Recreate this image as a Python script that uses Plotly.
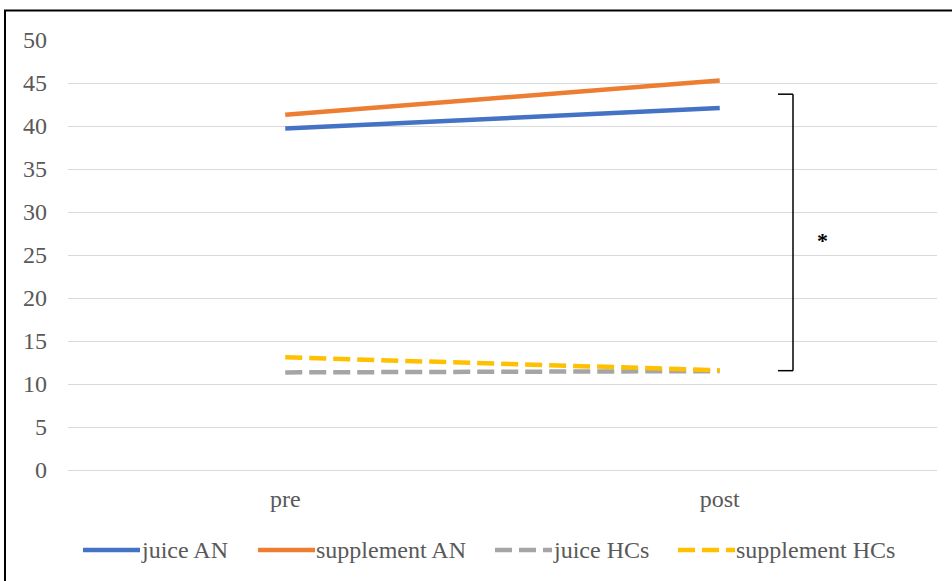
import plotly.graph_objects as go

categories = ["pre", "post"]
juice_an = [39.7, 42.1]
supplement_an = [41.3, 45.3]
juice_hcs = [11.35, 11.5]
supplement_hcs = [13.1, 11.6]
y_ticks = [0, 5, 10, 15, 20, 25, 30, 35, 40, 45, 50]
series_names = ["juice AN", "supplement AN", "juice HCs", "supplement HCs"]

FONT = "Liberation Serif"
TXT = "#595959"
FS = 24

styles = [("#4472C4", "solid"), ("#ED7D31", "solid"),
          ("#A5A5A5", "17px,7px"), ("#FFC000", "17px,7px")]
values = [juice_an, supplement_an, juice_hcs, supplement_hcs]

PL, PR, PT, PB = 68, 15, 40, 111
W, H = 952, 581
PW, PH = W - PL - PR, H - PT - PB


def px(x):
    return (x - PL) / PW


def py(y):
    return (H - PB - y) / PH


fig = go.Figure()
for name, vals, (color, dash) in zip(series_names, values, styles):
    fig.add_trace(go.Scatter(
        x=categories, y=vals, name=name, mode="lines",
        line=dict(color=color, width=4.5, dash=dash), showlegend=False,
    ))

# legend drawn as in the original (long line samples touching the text)
leg_x = [83, 258, 495, 678]
leg_y = py(550)
for (color, dash), name, x0 in zip(styles, series_names, leg_x):
    fig.add_shape(type="line", xref="paper", yref="paper",
                  x0=px(x0), x1=px(x0 + 57), y0=leg_y, y1=leg_y,
                  line=dict(color=color, width=4.5, dash=dash))
    fig.add_annotation(xref="paper", yref="paper", x=px(x0 + 57), y=leg_y,
                       xanchor="left", yanchor="middle", text=name, showarrow=False,
                       xshift=-1, font=dict(family=FONT, size=FS, color=TXT))

# significance bracket between post AN mean and post HCs mean
top = (juice_an[1] + supplement_an[1]) / 2
bot = (juice_hcs[1] + supplement_hcs[1]) / 2
xv, xt = px(793), px(778)
bk = dict(color="black", width=1.5)
fig.add_shape(type="line", xref="paper", yref="y", x0=xv, x1=xv, y0=bot, y1=top, line=bk)
fig.add_shape(type="line", xref="paper", yref="y", x0=xt, x1=xv, y0=top, y1=top, line=bk)
fig.add_shape(type="line", xref="paper", yref="y", x0=xt, x1=xv, y0=bot, y1=bot, line=bk)
fig.add_annotation(xref="paper", yref="y", x=px(822), y=(top + bot) / 2, text="<b>*</b>",
                   showarrow=False, xshift=8, yshift=-8,
                   font=dict(family=FONT, size=22, color="black"))

# chart border
fig.add_shape(type="rect", xref="paper", yref="paper",
              x0=px(5), x1=px(990), y0=py(620), y1=py(10.5),
              line=dict(color="black", width=2), layer="below")

fig.update_layout(
    width=W, height=H,
    margin=dict(l=PL, r=PR, t=PT, b=PB),
    paper_bgcolor="white", plot_bgcolor="white",
    font=dict(family=FONT, size=FS, color=TXT),
    showlegend=False,
    xaxis=dict(type="category", range=[-0.5, 1.5], showgrid=False, showline=False,
               ticks="", ticklabelstandoff=12, tickfont=dict(size=FS, color=TXT)),
    yaxis=dict(range=[0, 50], tickvals=y_ticks, showgrid=True, gridcolor="#D9D9D9",
               gridwidth=1, zeroline=True, zerolinecolor="#D9D9D9", zerolinewidth=1,
               showline=False, ticks="", ticklabelstandoff=20,
               tickfont=dict(size=FS, color=TXT)),
)

fig.write_html("out.html", config={"displayModeBar": False},
               post_script="document.body.style.margin='0';document.body.style.overflow='hidden';")
